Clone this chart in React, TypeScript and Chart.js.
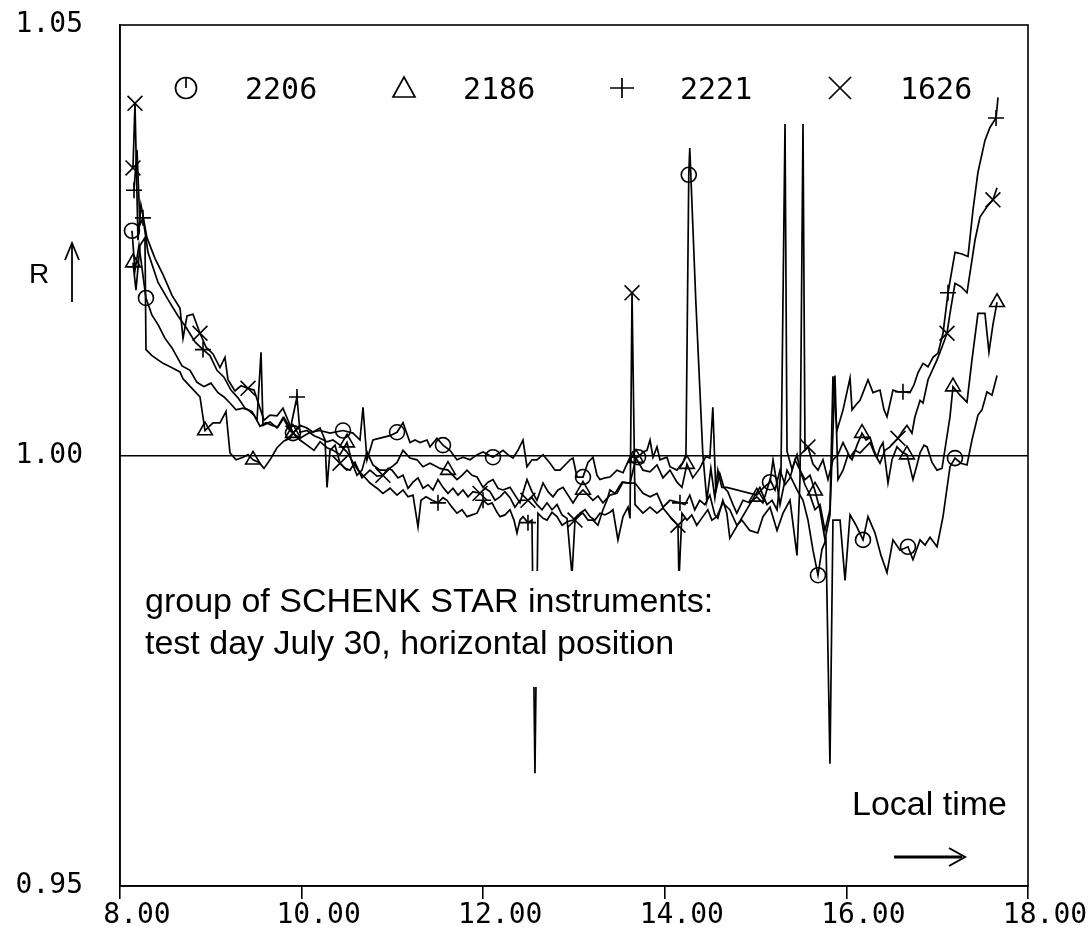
import React, { useEffect, useRef } from "react";
import { Chart, registerables } from "chart.js";

Chart.register(...registerables);

// ---- axis ticks / labels ----
const xTicks = [8, 10, 12, 14, 16, 18];
const yTicks = [0.95, 1.0, 1.05];
const seriesNames = ["2206", "2186", "2221", "1626"];
const annotationLines = ["group of SCHENK STAR instruments:", "test day July 30, horizontal position"];
const xTitle = "Local time";
const yTitle = "R";

// ---- series 2206 (circle) ----
const t2206 = [8.132,8.165,8.209,8.286,8.352,8.419,8.496,8.573,8.683,8.771,
8.848,8.925,9.002,9.079,9.145,9.211,9.278,9.355,9.410,9.476,
9.542,9.608,9.674,9.740,9.806,9.872,9.905,9.982,10.093,10.203,
10.313,10.456,10.566,10.643,10.676,10.720,10.786,10.896,10.974,11.051,
11.117,11.194,11.249,11.304,11.381,11.414,11.491,11.557,11.634,11.711,
11.778,11.855,11.932,11.998,12.108,12.218,12.273,12.328,12.383,12.438,
12.482,12.537,12.592,12.659,12.736,12.791,12.846,12.901,12.956,12.989,
13.033,13.099,13.154,13.209,13.253,13.286,13.341,13.396,13.473,13.540,
13.617,13.705,13.760,13.804,13.837,13.870,13.914,13.947,14.024,14.057,
14.134,14.200,14.233,14.264,14.275,14.341,14.419,14.463,14.507,14.551,
14.584,14.628,14.683,15.013,15.081,15.159,15.192,15.236,15.269,15.346,
15.401,15.456,15.522,15.577,15.632,15.687,15.731,15.775,15.819,15.852,
15.930,15.985,16.040,16.106,16.183,16.238,16.315,16.381,16.447,16.513,
16.590,16.678,16.733,16.811,16.866,16.921,16.998,17.064,17.141,17.196,
17.262,17.328,17.383,17.449,17.493,17.548,17.603,17.659];
const r2206 = [1.0261,1.0215,1.0244,1.0183,1.0163,1.0152,1.0136,1.0125,1.0104,1.0099,
1.0085,1.0080,1.0084,1.0073,1.0068,1.0061,1.0053,1.0055,1.0053,1.0047,
1.0034,1.0038,1.0035,1.0033,1.0044,1.0032,1.0026,1.0020,1.0027,1.0029,
1.0026,1.0029,1.0026,1.0018,1.0056,0.9995,1.0018,1.0021,1.0023,1.0027,
1.0038,1.0015,1.0018,1.0015,1.0018,1.0010,1.0020,1.0012,1.0006,0.9995,
0.9998,0.9995,1.0001,1.0004,0.9998,1.0006,1.0001,0.9997,1.0006,1.0018,
0.9987,0.9995,0.9995,1.0001,0.9991,0.9983,0.9983,0.9989,0.9995,0.9997,
0.9975,0.9975,0.9992,0.9998,0.9977,0.9972,0.9974,0.9975,0.9983,0.9980,
0.9998,0.9998,1.0004,1.0006,1.0018,0.9998,1.0010,0.9995,0.9998,0.9987,
0.9983,0.9992,1.0001,1.0326,1.0357,1.0181,1.0001,0.9948,0.9985,0.9951,
0.9983,0.9963,0.9963,0.9954,0.9962,0.9969,0.9995,0.9966,0.9943,0.9983,
0.9972,0.9960,0.9948,0.9925,0.9890,0.9861,0.9891,0.9902,0.9642,0.9925,
0.9925,0.9855,0.9931,0.9919,0.9902,0.9929,0.9910,0.9884,0.9864,0.9902,
0.9890,0.9894,0.9879,0.9902,0.9896,0.9905,0.9894,0.9929,0.9987,0.9997,
0.9991,0.9989,1.0018,1.0047,1.0053,1.0074,1.0070,1.0093];
const m2206 = [0,3,26,31,39,47,54,71,81,93,105,115,124,131,139];

// ---- series 2186 (triangle) ----
const t2186 = [8.143,8.176,8.220,8.275,8.286,8.352,8.474,8.573,8.661,8.694,
8.793,8.881,8.936,9.024,9.101,9.167,9.211,9.278,9.355,9.410,
9.465,9.531,9.586,9.652,9.729,9.806,9.872,9.905,9.982,10.059,
10.137,10.203,10.280,10.346,10.423,10.500,10.555,10.610,10.665,10.720,
10.786,10.863,10.940,11.007,11.051,11.117,11.194,11.271,11.337,11.414,
11.469,11.524,11.612,11.711,11.767,11.822,11.877,11.932,11.998,12.053,
12.108,12.163,12.218,12.295,12.350,12.405,12.482,12.537,12.592,12.659,
12.714,12.769,12.824,12.879,12.934,12.989,13.044,13.099,13.154,13.209,
13.264,13.319,13.396,13.473,13.540,13.617,13.683,13.760,13.837,13.914,
13.980,14.057,14.134,14.189,14.244,14.308,14.385,14.452,14.496,14.529,
14.562,14.606,14.650,14.694,14.751,14.793,14.861,14.936,15.013,15.081,
15.159,15.214,15.269,15.324,15.379,15.434,15.489,15.544,15.599,15.654,
15.709,15.764,15.819,15.874,15.907,15.963,16.018,16.062,16.117,16.172,
16.216,16.260,16.304,16.337,16.370,16.403,16.458,16.502,16.557,16.612,
16.667,16.733,16.777,16.811,16.855,16.888,16.943,16.998,17.053,17.141,
17.174,17.251,17.328,17.383,17.449,17.526,17.570,17.614,17.659];
const r2186 = [1.0224,1.0192,1.0244,1.0253,1.0123,1.0116,1.0107,1.0102,1.0097,1.0089,
1.0078,1.0068,1.0029,1.0038,1.0038,1.0051,1.0003,0.9995,0.9998,1.0001,
0.9995,0.9992,0.9985,0.9995,1.0009,1.0017,1.0020,1.0026,1.0018,1.0012,
1.0006,1.0016,1.0009,1.0006,1.0001,1.0015,0.9992,0.9977,0.9983,1.0004,
0.9989,0.9983,0.9983,0.9988,0.9992,1.0006,0.9997,0.9995,0.9987,0.9991,
0.9988,0.9985,0.9983,0.9972,0.9977,0.9983,0.9977,0.9975,0.9963,0.9969,
0.9972,0.9962,0.9960,0.9963,0.9954,0.9945,0.9972,0.9958,0.9948,0.9968,
0.9958,0.9952,0.9960,0.9963,0.9954,0.9945,0.9954,0.9960,0.9954,0.9948,
0.9953,0.9945,0.9954,0.9956,0.9969,0.9968,0.9997,0.9983,0.9981,0.9989,
0.9974,0.9983,0.9969,0.9963,0.9990,0.9974,0.9985,0.9999,0.9997,1.0056,
0.9958,0.9979,0.9963,0.9958,0.9943,0.9933,0.9948,0.9945,0.9952,0.9945,
0.9972,0.9960,0.9983,0.9966,0.9974,0.9995,0.9983,0.9972,0.9977,0.9959,
0.9937,0.9902,0.9931,1.0093,0.9972,0.9983,1.0001,0.9995,1.0012,1.0026,
1.0018,1.0021,1.0006,0.9998,1.0009,1.0015,0.9968,0.9995,1.0010,1.0004,
1.0001,0.9972,0.9989,1.0003,1.0012,1.0010,0.9992,0.9983,0.9985,1.0045,
1.0080,1.0070,1.0062,1.0111,1.0165,1.0165,1.0120,1.0152,1.0178];
const m2186 = [0,12,20,27,35,52,77,86,94,108,119,129,140,150,158];

// ---- series 2221 (plus) ----
const t2221 = [8.154,8.187,8.220,8.253,8.308,8.419,8.529,8.639,8.727,8.826,
8.914,8.991,9.068,9.145,9.222,9.300,9.377,9.454,9.509,9.553,
9.575,9.652,9.729,9.795,9.872,9.949,9.982,10.059,10.137,10.203,
10.280,10.346,10.423,10.500,10.566,10.621,10.676,10.753,10.830,10.896,
10.974,11.051,11.117,11.172,11.227,11.282,11.315,11.370,11.436,11.502,
11.557,11.601,11.656,11.711,11.767,11.822,11.877,11.932,11.998,12.053,
12.097,12.152,12.185,12.240,12.295,12.339,12.372,12.405,12.438,12.493,
12.537,12.570,12.603,12.659,12.703,12.758,12.813,12.868,12.923,12.989,
13.044,13.099,13.154,13.209,13.264,13.319,13.363,13.396,13.451,13.529,
13.595,13.672,13.760,13.837,13.914,13.980,14.057,14.167,14.222,14.275,
14.330,14.385,14.441,14.496,14.551,14.584,14.639,14.683,14.716,15.047,
15.081,15.125,15.181,15.236,15.280,15.324,15.346,15.401,15.456,15.489,
15.544,15.599,15.654,15.709,15.764,15.819,15.852,15.896,15.963,16.040,
16.062,16.106,16.150,16.183,16.238,16.293,16.370,16.414,16.447,16.513,
16.568,16.623,16.700,16.744,16.788,16.844,16.899,16.954,17.009,17.064,
17.119,17.196,17.273,17.339,17.394,17.449,17.526,17.581,17.648,17.670];
const r2221 = [1.0308,1.0355,1.0268,1.0276,1.0236,1.0201,1.0181,1.0162,1.0149,1.0132,
1.0123,1.0116,1.0099,1.0091,1.0076,1.0067,1.0055,1.0051,1.0041,1.0120,
1.0035,1.0039,1.0032,1.0044,1.0029,1.0068,1.0027,1.0029,1.0023,1.0020,
1.0016,1.0018,1.0012,1.0004,0.9992,0.9983,0.9977,0.9968,0.9962,0.9956,
0.9962,0.9954,0.9960,0.9952,0.9954,0.9917,0.9948,0.9952,0.9948,0.9945,
0.9951,0.9948,0.9940,0.9933,0.9937,0.9929,0.9931,0.9933,0.9948,0.9943,
0.9945,0.9934,0.9929,0.9931,0.9937,0.9925,0.9910,0.9925,0.9929,0.9922,
0.9925,0.9631,0.9933,0.9927,0.9925,0.9934,0.9929,0.9919,0.9923,0.9925,
0.9931,0.9933,0.9925,0.9925,0.9919,0.9937,0.9948,0.9960,0.9956,0.9969,
0.9968,0.9968,0.9956,0.9952,0.9956,0.9940,0.9948,0.9945,0.9943,0.9954,
0.9937,0.9948,0.9943,0.9954,0.9931,0.9927,0.9948,0.9933,0.9904,0.9963,
0.9954,0.9943,0.9948,0.9937,0.9983,1.0385,1.0005,0.9984,1.0001,0.9983,
0.9966,0.9954,0.9937,0.9943,0.9913,0.9937,1.0092,1.0029,1.0053,1.0090,
1.0053,1.0059,1.0064,1.0073,1.0088,1.0073,1.0076,1.0053,1.0045,1.0076,
1.0074,1.0074,1.0073,1.0082,1.0096,1.0107,1.0103,1.0114,1.0119,1.0142,
1.0189,1.0236,1.0234,1.0231,1.0285,1.0329,1.0366,1.0381,1.0392,1.0416];
const m2221 = [0,3,10,25,49,58,69,97,141,150,158];

// ---- series 1626 (x) ----
const t1626 = [8.143,8.165,8.198,8.231,8.297,8.385,8.474,8.573,8.661,8.694,
8.738,8.804,8.881,8.947,9.024,9.101,9.156,9.189,9.266,9.333,
9.410,9.476,9.520,9.586,9.652,9.729,9.795,9.850,9.905,9.982,
10.059,10.126,10.203,10.258,10.280,10.313,10.368,10.423,10.478,10.533,
10.588,10.665,10.753,10.830,10.896,10.952,10.996,11.062,11.117,11.172,
11.227,11.282,11.337,11.392,11.447,11.502,11.557,11.612,11.667,11.722,
11.778,11.833,11.888,11.965,12.020,12.075,12.130,12.185,12.240,12.295,
12.350,12.405,12.493,12.537,12.592,12.648,12.703,12.758,12.813,12.868,
12.923,12.978,13.011,13.066,13.121,13.176,13.231,13.286,13.341,13.396,
13.429,13.484,13.540,13.595,13.617,13.639,13.672,13.760,13.837,13.914,
13.980,14.057,14.145,14.156,14.189,14.244,14.297,14.352,14.419,14.474,
14.518,14.573,14.639,14.716,14.793,14.848,14.936,15.024,15.081,15.159,
15.236,15.302,15.379,15.456,15.489,15.522,15.544,15.577,15.632,15.687,
15.742,15.797,15.852,15.907,15.963,16.040,16.095,16.150,16.205,16.260,
16.315,16.370,16.425,16.480,16.568,16.623,16.667,16.722,16.755,16.811,
16.844,16.899,16.998,17.053,17.108,17.141,17.196,17.262,17.328,17.416,
17.471,17.548,17.614,17.659];
const r1626 = [1.0334,1.0409,1.0250,1.0291,1.0253,1.0229,1.0210,1.0186,1.0171,1.0136,
1.0162,1.0164,1.0142,1.0126,1.0118,1.0102,1.0114,1.0088,1.0075,1.0081,
1.0078,1.0076,1.0062,1.0041,1.0047,1.0046,1.0055,1.0041,1.0026,1.0035,
1.0032,1.0027,1.0032,1.0018,0.9963,1.0006,1.0012,0.9991,0.9985,0.9983,
0.9992,0.9974,0.9983,0.9976,0.9977,0.9985,0.9983,0.9974,0.9977,0.9962,
0.9969,0.9974,0.9962,0.9966,0.9960,0.9972,0.9963,0.9956,0.9962,0.9954,
0.9960,0.9952,0.9958,0.9956,0.9962,0.9958,0.9948,0.9952,0.9958,0.9951,
0.9940,0.9948,0.9948,0.9951,0.9943,0.9937,0.9945,0.9937,0.9943,0.9931,
0.9927,0.9861,0.9925,0.9933,0.9937,0.9929,0.9925,0.9933,0.9931,0.9934,
0.9937,0.9902,0.9929,0.9940,0.9927,1.0189,0.9943,0.9933,0.9940,0.9933,
0.9939,0.9929,0.9919,0.9855,0.9933,0.9925,0.9931,0.9919,0.9929,0.9937,
0.9925,0.9929,0.9945,0.9937,0.9919,0.9925,0.9913,0.9910,0.9929,0.9940,
0.9913,0.9933,0.9948,0.9884,0.9972,1.0385,1.0006,1.0010,0.9990,0.9983,
0.9995,0.9972,0.9995,1.0001,1.0015,0.9998,1.0006,1.0003,1.0009,1.0015,
1.0001,0.9991,1.0006,1.0010,1.0020,1.0029,1.0035,1.0026,1.0045,1.0064,
1.0061,1.0088,1.0111,1.0126,1.0142,1.0165,1.0200,1.0196,1.0189,1.0250,
1.0277,1.0289,1.0297,1.0311];
const m1626 = [0,1,12,20,28,37,44,63,72,82,95,102,127,144,154,162];

const INK = "#000";
const MONO = '"DejaVu Sans Mono", "Liberation Mono", monospace';
const SANS = '"Liberation Sans", Arial, Helvetica, sans-serif';

function makeSet(label: string, t: number[], r: number[], marks: number[], style: string, rad: number) {
  return {
    label,
    data: t.map((x, i) => ({ x, y: r[i] })),
    borderColor: INK,
    borderWidth: 1.7,
    fill: false,
    tension: 0,
    pointStyle: style,
    pointBorderColor: INK,
    pointBackgroundColor: "rgba(0,0,0,0)",
    pointBorderWidth: 1.6,
    pointRadius: (c: any) => (marks.includes(c.dataIndex) ? rad : 0),
    pointHoverRadius: 0,
  };
}

const decorPlugin = {
  id: "decor",
  afterDatasetsDraw(chart: any) {
    const { ctx, chartArea: a } = chart;
    ctx.save();
    // white box behind the annotation (hides lines under the text)
    ctx.fillStyle = "#fff";
    ctx.fillRect(136, 571, 630, 116);
    ctx.fillStyle = INK;
    ctx.font = `34px ${SANS}`;
    ctx.textBaseline = "alphabetic";
    ctx.textAlign = "left";
    ctx.fillText(annotationLines[0], 145, 612);
    ctx.fillText(annotationLines[1], 145, 654);
    // x title + arrow
    ctx.fillText(xTitle, 852, 815);
    ctx.strokeStyle = INK;
    ctx.lineWidth = 3;
    ctx.beginPath();
    ctx.moveTo(894, 857);
    ctx.lineTo(962, 857);
    ctx.stroke();
    ctx.lineWidth = 2;
    ctx.beginPath();
    ctx.moveTo(949, 848);
    ctx.lineTo(965, 857);
    ctx.lineTo(949, 866);
    ctx.stroke();
    // frame
    ctx.lineWidth = 1.6;
    ctx.strokeRect(a.left, a.top, a.right - a.left, a.bottom - a.top);
    // y title + arrow
    ctx.font = `28px ${SANS}`;
    ctx.fillText(yTitle, 29, 283);
    ctx.lineWidth = 1.8;
    ctx.beginPath();
    ctx.moveTo(72, 302);
    ctx.lineTo(72, 244);
    ctx.stroke();
    ctx.beginPath();
    ctx.moveTo(65, 260);
    ctx.lineTo(72, 243);
    ctx.lineTo(79, 260);
    ctx.stroke();
    // legend
    const ly = 88;
    ctx.lineWidth = 1.7;
    ctx.beginPath();
    ctx.arc(186, ly, 10.5, 0, Math.PI * 2);
    ctx.stroke();
    ctx.beginPath();
    ctx.moveTo(186, ly - 10.5);
    ctx.lineTo(186, ly);
    ctx.stroke();
    ctx.beginPath();
    ctx.moveTo(404, ly - 11);
    ctx.lineTo(415, ly + 9);
    ctx.lineTo(393, ly + 9);
    ctx.closePath();
    ctx.stroke();
    ctx.beginPath();
    ctx.moveTo(610, ly);
    ctx.lineTo(634, ly);
    ctx.moveTo(622, ly - 10);
    ctx.lineTo(622, ly + 10);
    ctx.stroke();
    ctx.beginPath();
    ctx.moveTo(829, ly - 11);
    ctx.lineTo(851, ly + 11);
    ctx.moveTo(851, ly - 11);
    ctx.lineTo(829, ly + 11);
    ctx.stroke();
    ctx.font = `30px ${MONO}`;
    const lx = [245, 463, 680, 900];
    seriesNames.forEach((n, i) => ctx.fillText(n, lx[i], 99));
    ctx.restore();
  },
};

export default function App() {
  const ref = useRef<HTMLCanvasElement | null>(null);
  useEffect(() => {
    document.body.style.margin = "0";
    const canvas = ref.current;
    if (!canvas) return;
    const chart = new Chart(canvas, {
      type: "line",
      data: {
        datasets: [
          makeSet(seriesNames[0], t2206, r2206, m2206, "circle", 7.5),
          makeSet(seriesNames[1], t2186, r2186, m2186, "triangle", 8.5),
          makeSet(seriesNames[2], t2221, r2221, m2221, "cross", 8),
          makeSet(seriesNames[3], t1626, r1626, m1626, "crossRot", 10.5),
        ] as any,
      },
      options: {
        responsive: false,
        animation: false,
        devicePixelRatio: 1,
        layout: { padding: { left: 0, right: 62, top: 25, bottom: 0 } },
        plugins: { legend: { display: false }, tooltip: { enabled: false } },
        events: [],
        scales: {
          x: {
            type: "linear",
            min: 8,
            max: 18,
            afterFit: (s: any) => {
              s.height = 47;
            },
            afterBuildTicks: (s: any) => {
              s.ticks = xTicks.map((v) => ({ value: v }));
            },
            ticks: {
              color: INK,
              font: { family: MONO, size: 28 },
              padding: 0,
              labelOffset: 17,
              maxRotation: 0,
              autoSkip: false,
              callback: (v: any) => Number(v).toFixed(2),
            },
            grid: { drawOnChartArea: false, drawTicks: true, tickLength: 13, color: INK, lineWidth: 1.6 },
            border: { display: true, color: INK, width: 1.6 },
          },
          y: {
            type: "linear",
            min: 0.95,
            max: 1.05,
            afterFit: (s: any) => {
              s.width = 120;
            },
            afterBuildTicks: (s: any) => {
              s.ticks = yTicks.map((v) => ({ value: v }));
            },
            ticks: {
              color: INK,
              font: { family: MONO, size: 28 },
              padding: 0,
              autoSkip: false,
              callback: (v: any) => Number(v).toFixed(2),
            },
            grid: {
              drawTicks: true,
              tickLength: 37,
              tickColor: "rgba(0,0,0,0)",
              lineWidth: 1.5,
              color: (c: any) => (c.tick && Math.abs(c.tick.value - 1) < 1e-9 ? INK : "rgba(0,0,0,0)"),
            },
            border: { display: true, color: INK, width: 1.6 },
          },
        },
      } as any,
      plugins: [decorPlugin],
    });
    return () => chart.destroy();
  }, []);
  return <canvas ref={ref} width={1090} height={933} style={{ display: "block" }} />;
}
